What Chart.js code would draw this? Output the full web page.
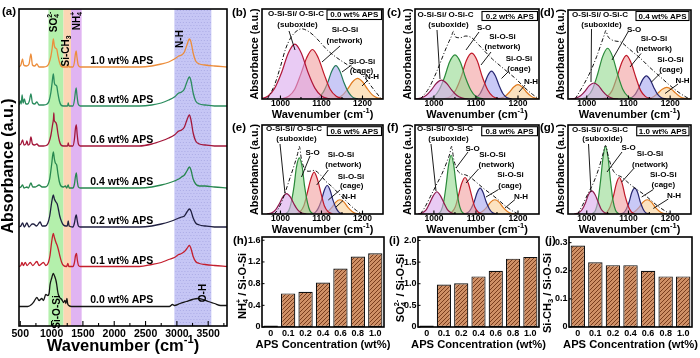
<!DOCTYPE html>
<html><head><meta charset="utf-8">
<script src="https://cdn.jsdelivr.net/npm/chart.js@4.4.1/dist/chart.umd.min.js"></script>
<style>
html,body{margin:0;padding:0;background:#fff;}
#wrap{position:relative;width:700px;height:358px;overflow:hidden;background:#fff;}
#wrap canvas{position:absolute;left:0;top:0;}
</style></head><body><div id="wrap"></div>
<script>
// ================= DATA =================
// (a) FTIR spectra: [wavenumber, absorbance a.u.]
const aTicks = [500,1000,1500,2000,2500,3000,3500];
const aMinorTicks = [750,1250,1750,2250,2750,3250,3750];
const apsLevels = ['0.0','0.1','0.2','0.4','0.6','0.8','1.0'];
const specOffsets = [19.5,58.5,98,137,179,219,258];
const spec00 = [[480,0],[620,0],[680,2],[720,5],[765,9],[800,6],[844,8],[870,6],[908,12],[940,11],[960,13],[976,22],[1000,28],[1028,33],[1050,30],[1070,26],[1082,22],[1095,16],[1108,12],[1130,9],[1162,7],[1190,4],[1214,6],[1228,3],[1245,8],[1256,3],[1275,1],[1320,0],[2000,0],[2880,0],[2930,2],[2960,1],[3050,3],[3150,5],[3250,7],[3330,8],[3420,7],[3500,5],[3600,3],[3700,1],[3800,1]];
const spec01 = [[480,1],[510,2],[527,5],[550,2],[580,5],[610,2],[659,5],[700,2],[765,6],[800,2],[870,5],[910,2],[949,5],[975,12],[1000,25],[1028,34],[1045,30],[1070,25],[1090,22],[1108,18],[1130,12],[1162,5],[1190,2],[1240,1],[1260,4],[1275,1],[1340,1],[1365,5],[1382,12],[1398,14],[1410,8],[1430,2],[1460,1],[1600,1],[2000,1],[2400,1],[2600,3],[2750,5],[2870,8],[2960,10],[3030,13],[3075,14],[3120,16],[3160,19],[3200,22],[3225,19],[3260,11],[3300,6],[3360,4],[3450,3],[3600,2],[3800,1]];
const spec02 = [[480,1],[510,2],[537,5],[565,1],[606,5],[640,1],[690,4],[711,4],[760,2],[817,6],[850,2],[900,2],[940,5],[970,12],[1000,25],[1028,33],[1045,29],[1070,26],[1090,24],[1108,19],[1130,12],[1162,6],[1190,3],[1230,2],[1250,2],[1266,7],[1280,2],[1340,1],[1365,5],[1382,11],[1395,13],[1408,8],[1428,2],[1460,1],[1600,1],[2000,1],[2400,1],[2600,2],[2750,4],[2870,6],[2960,8],[3030,10],[3075,11],[3120,12],[3160,16],[3200,19],[3225,17],[3260,10],[3300,5],[3360,3],[3450,2],[3600,1],[3800,1]];
const spec04 = [[480,1],[510,2],[537,4],[560,1],[606,2],[630,1],[670,6],[700,2],[740,2],[800,4],[850,2],[900,2],[940,4],[970,10],[1000,24],[1028,37],[1045,30],[1060,26],[1082,24],[1100,16],[1125,7],[1150,3],[1190,2],[1220,3],[1240,1],[1266,4],[1280,1],[1340,1],[1365,5],[1380,12],[1395,16],[1408,9],[1428,2],[1460,1],[1600,1],[2000,1],[2400,1],[2600,2],[2750,4],[2870,6],[2960,8],[3030,10],[3075,12],[3120,14],[3160,18],[3200,22],[3225,19],[3260,10],[3300,5],[3360,3],[3450,3],[3600,2],[3800,1]];
const spec06 = [[480,2],[510,3],[537,7],[560,2],[590,3],[606,6],[625,2],[650,3],[670,10],[695,3],[730,2],[765,3],[800,1],[870,1],[930,2],[960,5],[990,12],[1015,22],[1030,28],[1036,34],[1042,27],[1060,25],[1082,22],[1100,14],[1125,6],[1150,2],[1190,1],[1255,1],[1266,4],[1278,1],[1340,1],[1365,8],[1380,18],[1395,22],[1408,13],[1428,3],[1460,1],[1600,1],[2000,1],[2400,1],[2600,3],[2750,6],[2870,9],[2960,12],[3030,16],[3075,17],[3120,20],[3160,27],[3200,32],[3225,27],[3260,14],[3300,6],[3360,3],[3450,2],[3600,1],[3800,1]];
const spec08 = [[480,2],[500,6],[515,3],[530,12],[545,4],[565,8],[590,3],[620,3],[645,6],[670,13],[695,4],[730,3],[765,5],[800,2],[870,2],[930,3],[960,6],[990,15],[1010,25],[1028,33],[1045,24],[1060,22],[1082,21],[1100,14],[1125,6],[1150,2],[1190,1],[1255,1],[1266,4],[1278,1],[1340,1],[1365,7],[1380,15],[1392,19],[1405,12],[1425,3],[1460,1],[1600,1],[2000,1],[2400,1],[2600,2],[2750,4],[2870,7],[2960,10],[3030,14],[3075,15],[3120,18],[3160,25],[3200,30],[3225,26],[3260,14],[3300,6],[3360,3],[3450,2],[3600,1],[3800,1]];
const spec10 = [[480,1],[510,3],[537,9],[555,3],[600,2],[640,4],[670,14],[695,3],[730,2],[765,4],[800,1],[870,1],[930,2],[960,5],[990,12],[1010,20],[1028,29],[1045,22],[1060,20],[1082,19],[1100,13],[1125,6],[1150,2],[1190,1],[1255,1],[1266,3],[1278,1],[1340,1],[1365,6],[1380,14],[1392,17],[1405,11],[1425,3],[1460,1],[1600,1],[2000,1],[2400,1],[2600,2],[2750,4],[2870,6],[2960,9],[3030,12],[3075,13],[3120,16],[3160,23],[3200,29],[3225,26],[3260,15],[3300,7],[3360,4],[3450,3],[3600,2],[3800,1]];
const bandRanges = [[950,1190],[1190,1310],[1310,1480],[2960,3550]];

// (b)-(g) deconvolution: [wavenumber, absorbance a.u.]
const fitTicks = [1000,1100,1200];
const fitMinorTicks = [1050,1150];
const b_sub = [[949,0],[970,3.4],[986,12.1],[1003,29.7],[1019,50.9],[1035,61],[1051,50.9],[1067,29.7],[1084,12.1],[1100,3.4],[1121,0]];
const b_net = [[1001,0],[1020,3.1],[1035,10.9],[1049,26.8],[1064,45.9],[1078,55],[1092,45.9],[1107,26.8],[1121,10.9],[1136,3.1],[1155,0]];
const b_cage = [[1081,0],[1094,2.1],[1104,7.3],[1115,18],[1125,30.9],[1135,37],[1145,30.9],[1155,18],[1166,7.3],[1176,2.1],[1189,0]];
const b_nh = [[1124,0],[1140,1.3],[1152,4.6],[1164,11.2],[1176,19.2],[1188,23],[1200,19.2],[1212,11.2],[1224,4.6],[1236,1.3],[1252,0]];
const b_env = [[968,0],[985,15],[1000,36],[1012,55],[1025,68],[1038,75],[1052,78],[1065,76],[1080,71],[1097,63],[1115,54],[1137,46],[1160,39],[1185,32],[1205,24],[1225,12],[1246,0]];

const c_sub = [[954,0],[970,1.2],[982,4.2],[994,10.2],[1006,17.5],[1018,21],[1030,17.5],[1042,10.2],[1054,4.2],[1066,1.2],[1082,0]];
const c_so = [[983,0],[1000,2.7],[1012,9.7],[1025,23.9],[1037,40.9],[1050,49],[1063,40.9],[1075,23.9],[1088,9.7],[1100,2.7],[1117,0]];
const c_net = [[1023,0],[1040,2.9],[1052,10.1],[1065,24.8],[1077,42.6],[1090,51],[1103,42.6],[1115,24.8],[1128,10.1],[1140,2.9],[1157,0]];
const c_cage = [[1089,0],[1101,1.7],[1110,6.1],[1119,15.1],[1128,25.9],[1137,31],[1146,25.9],[1155,15.1],[1164,6.1],[1173,1.7],[1185,0]];
const c_nh = [[1146,0],[1159,0.9],[1170,3.2],[1180,7.8],[1190,13.4],[1200,16],[1210,13.4],[1220,7.8],[1231,3.2],[1241,0.9],[1254,0]];
const c_env = [[968,0],[988,12],[1008,32],[1025,52],[1036,64],[1042,70],[1046,75],[1051,69],[1062,68],[1076,70],[1090,68],[1105,61],[1121,53],[1140,44],[1160,36],[1178,29],[1196,22],[1215,13],[1235,5],[1250,0]];

const d_sub = [[959,0],[974,1],[985,3.6],[996,8.8],[1006,15],[1017,18],[1028,15],[1038,8.8],[1049,3.6],[1060,1],[1075,0]];
const d_so = [[986,0],[1002,3.2],[1014,11.3],[1026,27.8],[1038,47.6],[1050,57],[1062,47.6],[1074,27.8],[1086,11.3],[1098,3.2],[1114,0]];
const d_net = [[1034,0],[1049,2.7],[1061,9.7],[1072,23.9],[1084,40.9],[1095,49],[1106,40.9],[1118,23.9],[1129,9.7],[1141,2.7],[1156,0]];
const d_cage = [[1095,0],[1107,1.5],[1116,5.1],[1125,12.7],[1134,21.7],[1143,26],[1152,21.7],[1161,12.7],[1170,5.1],[1179,1.5],[1191,0]];
const d_nh = [[1134,0],[1149,0.7],[1160,2.6],[1170,6.3],[1181,10.9],[1192,13],[1203,10.9],[1214,6.3],[1224,2.6],[1235,0.7],[1250,0]];
const d_env = [[972,0],[990,14],[1008,30],[1024,48],[1036,64],[1042,72],[1046,77],[1050,71],[1058,67],[1070,65],[1082,64],[1095,59],[1110,53],[1128,46],[1150,36],[1176,25],[1200,15],[1225,6],[1246,0]];

const e_sub = [[967,0],[979,1.3],[988,4.6],[997,11.2],[1006,19.2],[1015,23],[1024,19.2],[1033,11.2],[1042,4.6],[1051,1.3],[1063,0]];
const e_so = [[1011,0],[1020,3.5],[1026,12.5],[1033,30.7],[1039,52.6],[1046,63],[1053,52.6],[1059,30.7],[1066,12.5],[1072,3.5],[1081,0]];
const e_net = [[1037,0],[1048,2.6],[1057,9.3],[1065,22.9],[1074,39.2],[1082,47],[1090,39.2],[1099,22.9],[1107,9.3],[1116,2.6],[1127,0]];
const e_cage = [[1076,0],[1085,1.8],[1092,6.3],[1100,15.6],[1107,26.7],[1114,32],[1121,26.7],[1128,15.6],[1136,6.3],[1143,1.8],[1152,0]];
const e_nh = [[1094,0],[1107,0.9],[1116,3.2],[1126,7.8],[1135,13.4],[1145,16],[1155,13.4],[1164,7.8],[1174,3.2],[1183,0.9],[1196,0]];
const e_env = [[985,0],[995,6],[1005,16],[1020,36],[1035,57],[1042,68],[1046,76],[1051,62],[1060,50],[1070,48],[1082,49],[1095,45],[1110,37],[1125,31],[1140,24],[1155,17],[1170,10],[1185,4],[1200,0]];

const f_sub = [[962,0],[973,1.4],[982,5],[990,12.2],[999,20.9],[1007,25],[1015,20.9],[1024,12.2],[1032,5],[1041,1.4],[1052,0]];
const f_so = [[1009,0],[1017,3.7],[1023,13.1],[1029,32.1],[1035,55.1],[1041,66],[1047,55.1],[1053,32.1],[1059,13.1],[1065,3.7],[1073,0]];
const f_net = [[1032,0],[1043,2.3],[1051,8.1],[1058,20],[1066,34.2],[1074,41],[1082,34.2],[1090,20],[1097,8.1],[1105,2.3],[1116,0]];
const f_cage = [[1072,0],[1081,1.6],[1088,5.7],[1096,14.1],[1103,24.2],[1110,29],[1117,24.2],[1124,14.1],[1132,5.7],[1139,1.6],[1148,0]];
const f_nh = [[1094,0],[1107,0.9],[1116,3.2],[1126,7.8],[1135,13.4],[1145,16],[1155,13.4],[1164,7.8],[1174,3.2],[1183,0.9],[1196,0]];
const f_env = [[968,0],[979,8],[992,20],[1005,32],[1020,46],[1032,60],[1038,68],[1042,76],[1047,62],[1055,50],[1065,45],[1075,44],[1090,40],[1105,34],[1120,28],[1137,22],[1153,16],[1170,9],[1185,4],[1200,0]];

const g_sub = [[970,0],[981,1.5],[989,5.1],[997,12.7],[1004,21.7],[1012,26],[1020,21.7],[1028,12.7],[1035,5.1],[1043,1.5],[1054,0]];
const g_so = [[1013,0],[1021,4.3],[1027,15],[1033,37],[1039,63.5],[1045,76],[1051,63.5],[1057,37],[1063,15],[1069,4.3],[1077,0]];
const g_net = [[1040,0],[1049,2.3],[1056,8.1],[1064,20],[1071,34.2],[1078,41],[1085,34.2],[1092,20],[1100,8.1],[1107,2.3],[1116,0]];
const g_cage = [[1080,0],[1089,1.6],[1095,5.7],[1102,14.1],[1108,24.2],[1115,29],[1122,24.2],[1128,14.1],[1135,5.7],[1141,1.6],[1150,0]];
const g_nh = [[1094,0],[1107,0.9],[1116,3.2],[1126,7.8],[1135,13.4],[1145,16],[1155,13.4],[1164,7.8],[1174,3.2],[1183,0.9],[1196,0]];
const g_env = [[978,0],[990,10],[1002,22],[1015,34],[1028,50],[1038,66],[1045,77],[1052,64],[1062,50],[1072,44],[1082,42],[1095,37],[1110,31],[1125,26],[1140,21],[1155,15],[1170,9],[1186,4],[1200,0]];

// (h)-(j) bar ratios
const apsCategories = ['0','0.1','0.2','0.4','0.6','0.8','1.0'];
const nh4Ratio = [0,0.62,0.65,0.82,1.08,1.30,1.36];
const so4Ratio = [0,0.98,1.01,1.17,1.30,1.58,1.62];
const sich3Ratio = [0.29,0.23,0.22,0.22,0.20,0.18,0.18];
const hTicks = [0,0.4,0.8,1.2,1.6];
const iTicks = [0,0.5,1.0,1.5,2.0];
const jTicks = [0,0.1,0.2,0.3];

// ================= RENDERING =================
const FONT = '"Liberation Sans", Arial, Helvetica, sans-serif';
const W = 700, H = 358;
const XH = 16;   // height reserved for x tick labels
const YW = 24;   // width reserved for y tick labels (bar panels)

function parseRich(s){
  const out=[]; let i=0, buf='';
  while(i<s.length){
    if((s[i]==='_'||s[i]==='^') && s[i+1]==='{'){
      if(buf){out.push({t:'n',s:buf});buf='';}
      const j=s.indexOf('}',i);
      out.push({t:s[i]==='_'?'sub':'sup', s:s.slice(i+2,j)});
      i=j+1;
    } else { buf+=s[i]; i++; }
  }
  if(buf) out.push({t:'n',s:buf});
  return out;
}
function drawRich(ctx, s, x, y, size, o){
  o=o||{};
  const segs=parseRich(s), small=size*0.68;
  ctx.save(); ctx.translate(x,y); if(o.rot) ctx.rotate(o.rot);
  let cx=0; const pl=[];
  for(let k=0;k<segs.length;k++){
    const g=segs[k];
    if(g.t==='n'){ ctx.font=`bold ${size}px ${FONT}`; const w=ctx.measureText(g.s).width; pl.push({s:g.s,x:cx,dy:0,f:ctx.font}); cx+=w; }
    else {
      ctx.font=`bold ${small}px ${FONT}`; const w=ctx.measureText(g.s).width;
      const dy = g.t==='sub'? size*0.3 : -size*0.34;
      if(g.t==='sup' && k>0 && segs[k-1].t==='sub'){ const prev=pl[pl.length-1]; pl.push({s:g.s,x:prev.x,dy,f:ctx.font}); cx=Math.max(cx,prev.x+w); }
      else { pl.push({s:g.s,x:cx,dy,f:ctx.font}); cx+=w; }
    }
  }
  const off = o.align==='left'?0:(o.align==='right'?-cx:-cx/2);
  ctx.fillStyle=o.color||'#000'; ctx.textBaseline='middle'; ctx.textAlign='left';
  for(const p of pl){ ctx.font=p.f; ctx.fillText(p.s, off+p.x, p.dy); }
  ctx.restore();
}
const ROT = -Math.PI/2;

function makeCanvas(){
  const c=document.createElement('canvas'); c.width=W; c.height=H;
  c.style.width=W+'px'; c.style.height=H+'px';
  document.getElementById('wrap').appendChild(c); return c;
}
// geo = plot-area box [left, top, right, bottom]; yw = width of y-axis box (0 if hidden)
function mk(geo, yw, type, data, scales, deco){
  const cv=makeCanvas();
  return new Chart(cv.getContext('2d'), {
    type, data,
    options:{ responsive:false, animation:false, devicePixelRatio:1, events:[],
      layout:{padding:{left:geo[0]-yw, top:geo[1], right:W-geo[2], bottom:H-geo[3]-XH}},
      plugins:{legend:{display:false}, tooltip:{enabled:false}},
      elements:{point:{radius:0}},
      scales },
    plugins:[{ id:'deco',
      beforeDatasetsDraw(ch){ if(deco.before) deco.before(ch, ch.ctx); },
      afterDraw(ch){ if(deco.after) deco.after(ch, ch.ctx); } }]
  });
}
function xLinear(min,max,tickArr,size,pad){
  return { type:'linear', min, max, position:'bottom',
    afterFit(s){ s.height=XH; },
    afterBuildTicks(s){ s.ticks = tickArr.map(v=>({value:v})); },
    grid:{display:false, drawTicks:false}, border:{display:false},
    ticks:{ font:{family:FONT,size,weight:'bold'}, color:'#000', padding:pad, maxRotation:0, autoSkip:false, callback:v=>String(v) } };
}
function yHidden(min,max){ return { type:'linear', min, max, display:false }; }
function frame(ch,ctx){
  const a=ch.chartArea; ctx.save(); ctx.strokeStyle='#000'; ctx.lineWidth=1.6;
  ctx.strokeRect(a.left, a.top, a.right-a.left, a.bottom-a.top); ctx.restore();
}
function xTicksIn(ch,ctx,majors,minors,lMaj,lMin){
  const s=ch.scales.x, a=ch.chartArea; ctx.save(); ctx.strokeStyle='#000'; ctx.lineWidth=1.1; ctx.beginPath();
  for(const v of majors){ const p=s.getPixelForValue(v); ctx.moveTo(p,a.bottom); ctx.lineTo(p,a.bottom-lMaj); }
  for(const v of minors){ const p=s.getPixelForValue(v); if(p>a.left&&p<a.right){ ctx.moveTo(p,a.bottom); ctx.lineTo(p,a.bottom-lMin);} }
  ctx.stroke(); ctx.restore();
}
function letter(ctx, t, x, y){ drawRich(ctx, t, x, y, 11.5, {align:'left'}); }

// ---------- Panel (a) ----------
const aColors = ['#151515','#c41f2e','#1f1f40','#27874f','#a3173a','#2b8c5e','#ec8d3b'];
const aSpecs = [spec00,spec01,spec02,spec04,spec06,spec08,spec10];
const bandFill = ['rgb(180,240,172)','rgb(252,214,180)','rgb(224,180,242)','rgb(198,198,245)'];
mk([19,9,227,326], 0, 'line', {
  datasets: aSpecs.map((s,i)=>({ data:s.map(p=>({x:p[0], y:p[1]+specOffsets[i]})), borderColor:aColors[i],
    borderWidth:1.3, pointRadius:0, cubicInterpolationMode:'monotone', fill:false }))
}, { x:xLinear(480,3800,aTicks,10.5,2), y:yHidden(0,317) }, {
  before(ch,ctx){
    const a=ch.chartArea, s=ch.scales.x;
    ctx.save();
    bandRanges.forEach((r,i)=>{ const x1=s.getPixelForValue(r[0]), x2=s.getPixelForValue(r[1]);
      ctx.fillStyle=bandFill[i]; ctx.fillRect(x1,a.top,x2-x1,a.bottom-a.top);
      if(i===3){ ctx.fillStyle='rgba(140,140,210,0.45)';
        for(let yy=a.top+1; yy<a.bottom; yy+=3) for(let xx=x1+((yy|0)%2?1:2.5); xx<x2; xx+=3) ctx.fillRect(xx,yy,1,1); }
    });
    ctx.restore();
  },
  after(ch,ctx){
    frame(ch,ctx); xTicksIn(ch,ctx,aTicks,aMinorTicks,5,3);
    const sx=ch.scales.x, sy=ch.scales.y;
    apsLevels.forEach((lv,i)=>{ drawRich(ctx, lv+' wt% APS', sx.getPixelForValue(2120), sy.getPixelForValue(specOffsets[i]+6.5), 10.5); });
    drawRich(ctx,'SO_{4}^{2-}',54,22,10,{rot:ROT});
    drawRich(ctx,'Si-CH_{3}',66.5,51,10,{rot:ROT});
    drawRich(ctx,'NH_{4}^{+}',77,21,10,{rot:ROT});
    drawRich(ctx,'N-H',180,39,10,{rot:ROT});
    drawRich(ctx,'O-H',203,293,10,{rot:ROT});
    drawRich(ctx,'Si-O-Si',57,312,10,{rot:ROT});
    drawRich(ctx,'Wavenumber (cm^{-1})',123,346,16.5);
    drawRich(ctx,'Absorbance (a.u.)',9,166,16,{rot:ROT});
    letter(ctx,'(a)',2,12);
  }
});

// ---------- Panels (b)-(g) ----------
const peakStyle = {
  sub:{fill:'rgba(218,168,236,0.6)', line:'#8e1a4c'},
  so:{fill:'rgba(150,218,145,0.62)', line:'#2a8a3a'},
  net:{fill:'rgba(240,150,150,0.55)', line:'#c01828'},
  cage:{fill:'rgba(165,165,240,0.6)', line:'#262670'},
  nh:{fill:'rgba(250,208,150,0.6)', line:'#e07b20'}
};
function fitPanel(geo, letterTxt, letterPos, ytitleX, level, peaks, env, ann){
  const ds = peaks.map(p=>({ data:p.d.map(q=>({x:q[0],y:q[1]})), borderColor:p.line||peakStyle[p.k].line,
    backgroundColor:peakStyle[p.k].fill, fill:'origin', borderWidth:1.2, pointRadius:0, cubicInterpolationMode:'monotone' }));
  ds.unshift({ data:env.map(q=>({x:q[0],y:q[1]})), borderColor:'#111', borderWidth:1, borderDash:[4,2,1,2],
    fill:false, pointRadius:0, cubicInterpolationMode:'monotone' });
  mk(geo,0,'line',{datasets:ds},{ x:xLinear(955,1250,fitTicks,8.5,0), y:yHidden(0,100) }, {
    after(ch,ctx){
      frame(ch,ctx); xTicksIn(ch,ctx,fitTicks,fitMinorTicks,3.5,2);
      const a=ch.chartArea;
      ctx.save(); ctx.strokeStyle='#000'; ctx.lineWidth=0.9; ctx.beginPath();
      ann.lines.forEach(l=>{ ctx.moveTo(l[0],l[1]); ctx.lineTo(l[2],l[3]); }); ctx.stroke();
      const bx=ann.box; ctx.fillStyle='#fff'; ctx.fillRect(bx[0],bx[1],bx[2]-bx[0],bx[3]-bx[1]);
      ctx.lineWidth=1.1; ctx.strokeRect(bx[0],bx[1],bx[2]-bx[0],bx[3]-bx[1]); ctx.restore();
      drawRich(ctx, level+' wt% APS', (bx[0]+bx[2])/2, (bx[1]+bx[3])/2+0.5, 8);
      ann.texts.forEach(t=>drawRich(ctx,t[0],t[1],t[2],8));
      drawRich(ctx,'Wavenumber (cm^{-1})',(a.left+a.right)/2,a.bottom+16,11);
      drawRich(ctx,'Absorbance (a.u.)',ytitleX,(a.top+a.bottom)/2,10.8,{rot:ROT});
      letter(ctx,letterTxt,letterPos[0],letterPos[1]);
    }
  });
}
fitPanel([262,9,383,99],'(b)',[232,13],255,'0.0',
  [{k:'sub',d:b_sub,line:'#b0173a'},{k:'net',d:b_net},{k:'cage',d:b_cage,line:'#247a5a'},{k:'nh',d:b_nh}], b_env,
  { texts:[['O-Si-Si/ O-Si-C',296,14],['(suboxide)',297.5,24.5],['Si-O-Si',345,30],['(network)',344.5,40.5],['Si-O-Si',362,61.5],['(cage)',361.5,71],['N-H',372,76.5]],
    lines:[[289,31,295,50],[340,46,322,62],[351.5,65,342,72],[368,80,362,86]], box:[327,10,381.5,19.5] });
fitPanel([415,9,539,99],'(c)',[387,13],408,'0.2',
  [{k:'sub',d:c_sub},{k:'so',d:c_so},{k:'net',d:c_net},{k:'cage',d:c_cage},{k:'nh',d:c_nh}], c_env,
  { texts:[['O-Si-Si/ O-Si-C',445.5,15],['(suboxide)',448.5,25],['S-O',484,27.7],['Si-O-Si',502.5,36.7],['(network)',502.5,46.5],['Si-O-Si',519,58.3],['(cage)',519,68.3],['N-H',531,81.7]],
    lines:[[437,30,440,79],[479,32,466,50],[491,52,481,65],[508,72,501.5,78.5],[525,85,519,92]], box:[482,11.5,537.5,20.5] });
fitPanel([568,10,691,99],'(d)',[540,13],561,'0.4',
  [{k:'sub',d:d_sub},{k:'so',d:d_so},{k:'net',d:d_net},{k:'cage',d:d_cage},{k:'nh',d:d_nh}], d_env,
  { texts:[['O-Si-Si/ O-Si-C',600,15],['(suboxide)',601.5,25],['S-O',634,29.3],['Si-O-Si',654,38.3],['(network)',654,48.3],['Si-O-Si',670.5,60],['(cage)',671,70],['N-H',682.5,80.7]],
    lines:[[591.5,29,591,82],[628,32,612,60],[641,53.5,630,67],[660,73.5,651.5,82],[678,84,665,93.5]], box:[636,11.5,689,20.5] });
fitPanel([262,125,383,214],'(e)',[232,128],255,'0.6',
  [{k:'sub',d:e_sub},{k:'so',d:e_so},{k:'net',d:e_net},{k:'cage',d:e_cage},{k:'nh',d:e_nh}], e_env,
  { texts:[['O-Si-Si/ O-Si-C',294,129],['(suboxide)',296.5,139],['S-O',312.5,152.3],['Si-O-Si',341,154.3],['(network)',343.3,165],['Si-O-Si',351,176.7],['(cage)',351.7,186],['N-H',349,196.7]],
    lines:[[280,144,285,193.5],[310,156,301.5,177],[328.3,170,316.7,185],[340,190,328.3,200],[343,200.5,336,207]], box:[327.3,126.7,381.5,135.5] });
fitPanel([415,125,539,214],'(f)',[387,128],408,'0.8',
  [{k:'sub',d:f_sub},{k:'so',d:f_so},{k:'net',d:f_net},{k:'cage',d:f_cage},{k:'nh',d:f_nh}], f_env,
  { texts:[['O-Si-Si/ O-Si-C',445,129],['(suboxide)',448.5,139],['S-O',472.5,148.3],['Si-O-Si',492.5,154.3],['(network)',496.5,165],['Si-O-Si',510.5,175],['(cage)',510,186],['N-H',521,196.7]],
    lines:[[431,144,436,191],[468,152,456,168],[478.5,169,466,183],[498.5,189.5,486,197],[515,199.5,505,208]], box:[481.7,126.7,537.5,135.7] });
fitPanel([568,125,691,214],'(g)',[540,128],561,'1.0',
  [{k:'sub',d:g_sub},{k:'so',d:g_so},{k:'net',d:g_net},{k:'cage',d:g_cage},{k:'nh',d:g_nh}], g_env,
  { texts:[['O-Si-Si/ O-Si-C',600,130],['(suboxide)',602.5,139],['S-O',628.5,147.7],['Si-O-Si',650,153.3],['(network)',650,164.3],['Si-O-Si',663.3,174.3],['(cage)',663.3,185],['N-H',674,195.7]],
    lines:[[588.5,144,591,192],[622,152,607,172],[633.3,169,621.7,182],[653.3,189.5,641.7,197],[668.3,199,653.3,208.5]], box:[636.7,126.7,689,135.7] });

// ---------- Panels (h)-(j) ----------
function hatchPattern(){
  const c=document.createElement('canvas'); c.width=4; c.height=4; const x=c.getContext('2d');
  x.fillStyle='#cf9066'; x.fillRect(0,0,4,4);
  x.strokeStyle='#7a3e1e'; x.lineWidth=1;
  x.beginPath(); x.moveTo(-1,5); x.lineTo(5,-1); x.moveTo(3,5); x.lineTo(5,3); x.moveTo(-1,1); x.lineTo(1,-1); x.stroke();
  return x.createPattern(c,'repeat');
}
const HATCH = hatchPattern();
function barPanel(geo, letterTxt, letterPos, values, ticksArr, yMax, ytitle, ytitleX, ytitleY){
  mk(geo,YW,'bar',{ labels:apsCategories, datasets:[{ data:values, backgroundColor:HATCH, borderColor:'#111', borderWidth:1.2,
      borderSkipped:false, barPercentage:0.82, categoryPercentage:1, minBarLength:1.5 }] },
    { x:{ type:'category', position:'bottom', afterFit(s){ s.height=XH; }, grid:{display:false,drawTicks:false}, border:{display:false},
          ticks:{ font:{family:FONT,size:9,weight:'bold'}, color:'#000', padding:1, maxRotation:0, autoSkip:false } },
      y:{ type:'linear', min:0, max:yMax, position:'left', afterFit(s){ s.width=YW; },
          afterBuildTicks(s){ s.ticks=ticksArr.map(v=>({value:v})); },
          grid:{display:false,drawTicks:false}, border:{display:false},
          ticks:{ font:{family:FONT,size:9,weight:'bold'}, color:'#000', padding:1.5, autoSkip:false, callback:v=>v===0?'0':v.toFixed(1) } } },
    { after(ch,ctx){
        frame(ch,ctx);
        const a=ch.chartArea, sy=ch.scales.y;
        ctx.save(); ctx.strokeStyle='#000'; ctx.lineWidth=1; ctx.beginPath();
        ticksArr.forEach(v=>{ const p=sy.getPixelForValue(v); ctx.moveTo(a.left,p); ctx.lineTo(a.left+2.5,p); });
        ctx.stroke(); ctx.restore();
        drawRich(ctx,'APS Concentration (wt%)',(a.left+a.right)/2,345,11.2);
        drawRich(ctx,ytitle,ytitleX,ytitleY,11,{rot:ROT});
        letter(ctx,letterTxt,letterPos[0],letterPos[1]);
    } });
}
barPanel([262,237,384,327],'(h)',[233,241],nh4Ratio,hTicks,1.66,'NH_{4}^{+} / Si-O-Si',243,286);
barPanel([418,237,539,327],'(i)',[389,241],so4Ratio,iTicks,2.08,'SO_{4}^{2-} / Si-O-Si',401,288);
barPanel([569,237,692,327],'(j)',[545,241],sich3Ratio,jTicks,0.32,'Si-CH_{3} / Si-O-Si',548,293);
</script></body></html>
